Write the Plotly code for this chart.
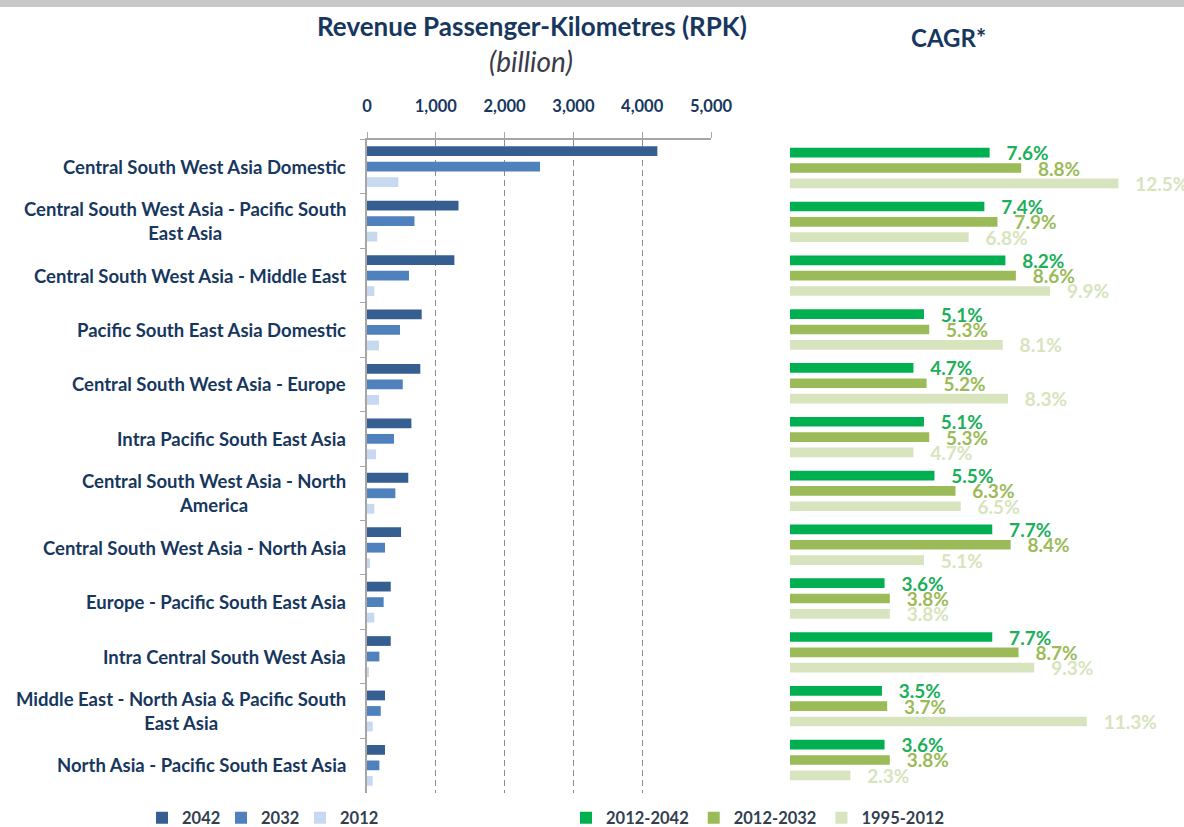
import plotly.graph_objects as go

categories = [
    "Central South West Asia Domestic",
    "Central South West Asia - Pacific South<br>East Asia",
    "Central South West Asia - Middle East",
    "Pacific South East Asia Domestic",
    "Central South West Asia - Europe",
    "Intra Pacific South East Asia",
    "Central South West Asia - North<br>America",
    "Central South West Asia - North Asia",
    "Europe - Pacific South East Asia",
    "Intra Central South West Asia",
    "Middle East - North Asia & Pacific South<br>East Asia",
    "North Asia - Pacific South East Asia",
]

rpk_2042 = [4220, 1330, 1270, 795, 775, 645, 600, 495, 345, 345, 262, 262]
rpk_2032 = [2515, 690, 610, 480, 520, 392, 412, 262, 242, 180, 200, 180]
rpk_2012 = [455, 150, 106, 174, 174, 131, 106, 44, 106, 20, 83, 83]

cagr_2012_2042 = [7.6, 7.4, 8.2, 5.1, 4.7, 5.1, 5.5, 7.7, 3.6, 7.7, 3.5, 3.6]
cagr_2012_2032 = [8.8, 7.9, 8.6, 5.3, 5.2, 5.3, 6.3, 8.4, 3.8, 8.7, 3.7, 3.8]
cagr_1995_2012 = [12.5, 6.8, 9.9, 8.1, 8.3, 4.7, 6.5, 5.1, 3.8, 9.3, 11.3, 2.3]

rpk_ticks = [0, 1000, 2000, 3000, 4000, 5000]

FONT = "Lato"
NAVY = "#17375E"
W, H = 1184, 827

fig = go.Figure()

rpk_series = [("2042", rpk_2042, "#355F91"), ("2032", rpk_2032, "#4F81BD"), ("2012", rpk_2012, "#C6D9F1")]
for name, vals, col in rpk_series:
    fig.add_trace(go.Bar(
        y=categories, x=vals, name=name, orientation="h",
        marker=dict(color=col, line=dict(width=0)),
        xaxis="x", yaxis="y", legend="legend", hoverinfo="x+y",
    ))

cagr_series = [("2012-2042", cagr_2012_2042, "#00B050", "#1DAF5A"),
               ("2012-2032", cagr_2012_2032, "#9BBB59", "#9BBB59"),
               ("1995-2012", cagr_1995_2012, "#D7E4BD", "#D7E4BD")]
for name, vals, col, tcol in cagr_series:
    fig.add_trace(go.Bar(
        y=categories, x=vals, name=name, orientation="h",
        marker=dict(color=col, line=dict(width=0)),
        text=[f"\u00a0\u00a0\u00a0{v:.1f}%" for v in vals], textposition="outside",
        textfont=dict(family=FONT, size=19, color=tcol, weight="bold"),
        cliponaxis=False, constraintext="none",
        xaxis="x2", yaxis="y2", legend="legend2",
    ))

# category labels (centred multi-line, right edge next to axis)
for cat in categories:
    fig.add_annotation(
        x=348 / W, xref="paper", xanchor="right",
        y=cat, yref="y", yanchor="middle",
        text=cat, showarrow=False, align="center",
        font=dict(family=FONT, size=18.5, color=NAVY, weight="bold"),
    )

fig.add_annotation(x=532 / W, y=1 - 26 / H, xref="paper", yref="paper",
                   xanchor="center", yanchor="middle",
                   text="<b>Revenue Passenger-Kilometres (RPK)</b>", showarrow=False,
                   font=dict(family=FONT, size=26, color=NAVY))
fig.add_annotation(x=531 / W, y=1 - 61 / H, xref="paper", yref="paper",
                   xanchor="center", yanchor="middle",
                   text="<i>(billion)</i>", showarrow=False,
                   font=dict(family=FONT, size=28, color="#3A3A4A"))
fig.add_annotation(x=948 / W, y=1 - 38 / H, xref="paper", yref="paper",
                   xanchor="center", yanchor="middle",
                   text="<b>CAGR*</b>", showarrow=False,
                   font=dict(family=FONT, size=24, color=NAVY))

fig.add_shape(type="rect", xref="paper", yref="paper", x0=0, x1=1, y0=1 - 7 / H, y1=1,
              fillcolor="#C8C8C8", line=dict(width=0), layer="above")

legend_font = dict(family=FONT, size=16.5, color="#333F50", weight="bold")

fig.update_layout(
    width=W, height=H,
    margin=dict(l=0, r=0, t=0, b=0, pad=0, autoexpand=False),
    paper_bgcolor="white", plot_bgcolor="white",
    barmode="group", bargap=0.145, bargroupgap=0.37,
    font=dict(family=FONT),
    xaxis=dict(
        domain=[367 / W, 711 / W], range=[0, 5000], side="top",
        tickvals=rpk_ticks, tickformat=",", showline=True, linecolor="#A6A6A6", linewidth=1.5,
        ticks="outside", ticklen=6, tickcolor="#A6A6A6", ticklabelstandoff=13,
        showgrid=True, gridcolor="#8C8C8C", griddash="6px,4px", gridwidth=1.3, zeroline=False,
        tickfont=dict(family=FONT, size=16.5, color=NAVY, weight="bold"), fixedrange=True,
        anchor="y", automargin=False,
    ),
    yaxis=dict(
        domain=[1 - 792.6 / H, 1 - 139.5 / H], autorange="reversed", type="category",
        showline=True, linecolor="#A6A6A6", linewidth=1.5, ticks="outside", ticklen=5,
        tickcolor="#A6A6A6", tickson="boundaries", showticklabels=False, showgrid=False,
        anchor="x", automargin=False,
    ),
    xaxis2=dict(
        domain=[790 / W, 1.0], range=[0, 15], visible=False, anchor="y2", automargin=False,
    ),
    yaxis2=dict(
        domain=[1 - 786.9 / H, 1 - 141.1 / H], autorange="reversed", type="category",
        visible=False, anchor="x2", automargin=False,
    ),
    legend=dict(
        orientation="h", x=142 / W, y=1 - 818 / H, xanchor="left", yanchor="middle",
        xref="container", yref="container",
        font=legend_font, entrywidth=34, entrywidthmode="pixels",
        itemwidth=30, tracegroupgap=0, bgcolor="rgba(0,0,0,0)",
    ),
    legend2=dict(
        orientation="h", x=566 / W, y=1 - 818 / H, xanchor="left", yanchor="middle",
        xref="container", yref="container",
        font=legend_font,
        itemwidth=30, tracegroupgap=0, bgcolor="rgba(0,0,0,0)",
    ),
)

fig.write_html("out.html", config={"displayModeBar": False},
               post_script="document.body.style.margin='0';")
